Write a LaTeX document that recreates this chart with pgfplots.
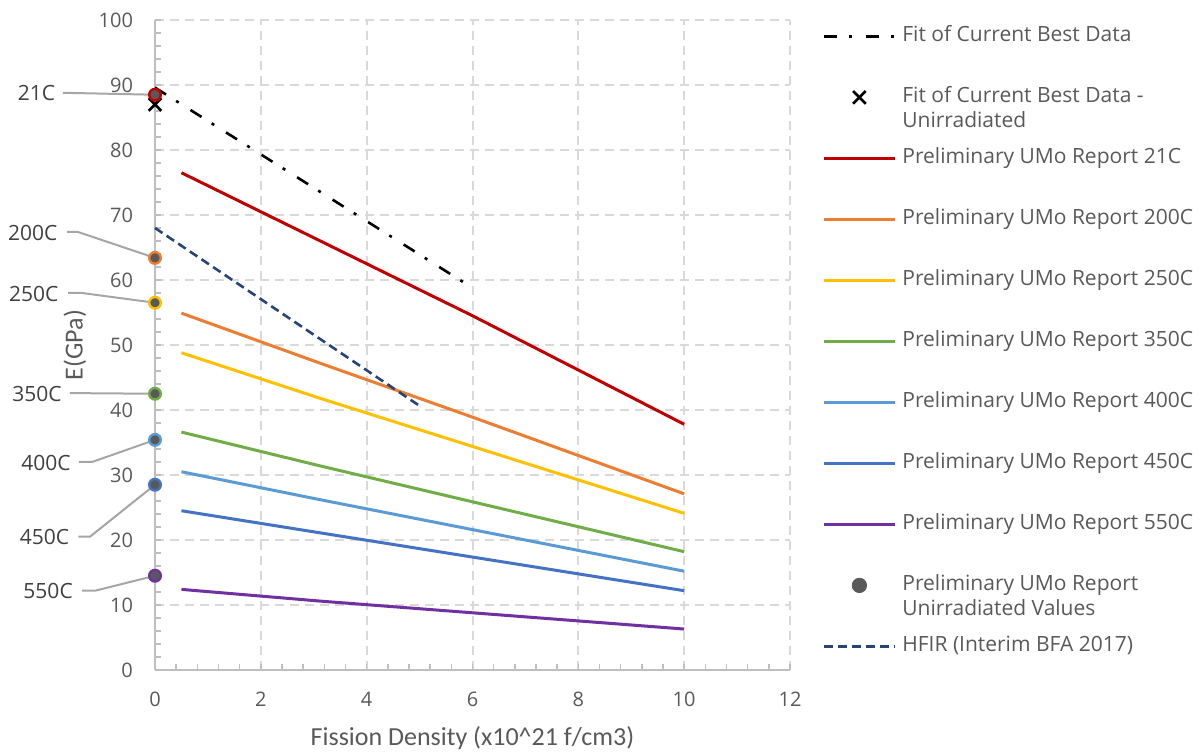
\documentclass[border=0pt]{standalone}
\usepackage{pgfplots}
\pgfplotsset{compat=1.18}
\usepackage{fontspec}
\setmainfont{Open Sans}
\newfontfamily\calib{Carlito}

\definecolor{c21}{HTML}{C00000}
\definecolor{c200}{HTML}{ED7D31}
\definecolor{c250}{HTML}{FFC000}
\definecolor{c350}{HTML}{70AD47}
\definecolor{c400}{HTML}{5B9BD5}
\definecolor{c450}{HTML}{4472C4}
\definecolor{c550}{HTML}{7030A0}
\definecolor{hfir}{HTML}{264478}
\definecolor{mk}{HTML}{595959}
\definecolor{txt}{HTML}{595959}
\definecolor{anntxt}{HTML}{404040}
\definecolor{lead}{HTML}{A6A6A6}
\definecolor{axisc}{HTML}{BFBFBF}
\definecolor{gridc}{HTML}{D9D9D9}

\tikzset{ann/.style={font=\fontsize{10.5}{12.5}\selectfont, text=anntxt, anchor=center}}
\pgfplotsset{leadline/.style={draw=lead, line width=1pt, forget plot}}

\begin{document}
\begin{tikzpicture}
\path[use as bounding box] (-77.5pt,-41.5pt) rectangle (522.5pt,335pt);
\begin{axis}[
  at={(0pt,0pt)}, anchor=south west,
  width=317.5pt, height=325pt, scale only axis,
  xmin=0, xmax=12, ymin=0, ymax=100,
  xtick={0,2,...,12}, ytick={0,10,...,100},
  minor x tick num=4, minor y tick num=4,
  clip=false,
  axis lines*=left,
  axis line style={draw=axisc, line width=1pt, -},
  every outer x axis line/.append style={-},
  every outer y axis line/.append style={-},
  xtick pos=left, ytick pos=left,
  tick align=inside,
  major tick length=3pt, minor tick length=3pt,
  tick style={draw=axisc, line width=0.8pt},
  grid=major,
  major grid style={draw=gridc, line width=1pt, dash pattern=on 4.5pt off 3pt},
  /pgf/number format/assume math mode=true,
  tick label style={font=\fontsize{10}{12}\selectfont, text=txt},
  yticklabel style={xshift=-7.5pt},
  xticklabel style={yshift=-7.5pt},
  xlabel={Fission Density (x10\textasciicircum 21 f/cm3)},
  ylabel={E(GPa)},
  xlabel style={font=\calib\fontsize{13}{15}\selectfont, text=txt,
    at={(axis description cs:0.5,-0.105)}, anchor=center},
  ylabel style={font=\calib\fontsize{13}{15}\selectfont, text=txt,
    at={(axis description cs:-0.126,0.5)}, anchor=center},
  legend image code/.code={\draw[mark repeat=2,mark phase=2,#1]
    plot coordinates {(0pt,0pt) (17.75pt,0pt) (35.5pt,0pt)};},
  legend cell align=left,
  legend style={at={(1,1)}, anchor=north west, xshift=16pt, yshift=-3.5pt,
    draw=none, fill=none, inner sep=0pt, row sep=21.5pt, column sep=3pt,
    font=\fontsize{10.5}{12.5}\selectfont,
    nodes={inner sep=0pt, text height=7pt, text depth=2pt, anchor=west, text=txt}},
]

% legend entries
\addlegendimage{draw=black, line width=1.3pt, dash pattern=on 6.5pt off 6pt on 1.5pt off 7pt}
\addlegendentry{Fit of Current Best Data}
\addlegendimage{only marks, mark=x, mark size=4.5pt, mark options={draw=black, line width=1.3pt}}
\addlegendentry{\smash{\begin{tabular}[t]{@{}l@{}}Fit of Current Best Data -\\Unirradiated\end{tabular}}}
\addlegendimage{draw=c21, line width=1.5pt}\addlegendentry{Preliminary UMo Report 21C}
\addlegendimage{draw=c200, line width=1.5pt}\addlegendentry{Preliminary UMo Report 200C}
\addlegendimage{draw=c250, line width=1.5pt}\addlegendentry{Preliminary UMo Report 250C}
\addlegendimage{draw=c350, line width=1.5pt}\addlegendentry{Preliminary UMo Report 350C}
\addlegendimage{draw=c400, line width=1.5pt}\addlegendentry{Preliminary UMo Report 400C}
\addlegendimage{draw=c450, line width=1.5pt}\addlegendentry{Preliminary UMo Report 450C}
\addlegendimage{draw=c550, line width=1.5pt}\addlegendentry{Preliminary UMo Report 550C}
\addlegendimage{only marks, mark=*, mark size=3.6pt, mark options={fill=mk, draw=mk}}
\addlegendentry{\smash{\begin{tabular}[t]{@{}l@{}}Preliminary UMo Report\\Unirradiated Values\end{tabular}}}
\addlegendimage{draw=hfir, line width=1.3pt, dash pattern=on 4.5pt off 2.5pt}
\addlegendentry{HFIR (Interim BFA 2017)}

% fit of current best data
\addplot[forget plot, draw=black, line width=1.3pt, dash pattern=on 6.5pt off 6pt on 1.5pt off 7pt]
  coordinates {(0,89.6) (5.82,59.7)};
\addplot[forget plot, only marks, mark=x, mark size=4.5pt, mark options={draw=black, line width=1.3pt}]
  coordinates {(0,87.0)};

% preliminary UMo report, irradiated
\addplot[forget plot, draw=c21, line width=1.5pt]  coordinates {(0.5,76.5) (6,54.5) (10,37.8)};
\addplot[forget plot, draw=c200, line width=1.5pt] coordinates {(0.5,54.9) (3.12,47.2) (6,38.9) (10,27.1)};
\addplot[forget plot, draw=c250, line width=1.5pt] coordinates {(0.5,48.8) (3.12,41.8) (10,24.1)};
\addplot[forget plot, draw=c350, line width=1.5pt] coordinates {(0.5,36.6) (3.12,31.4) (10,18.2)};
\addplot[forget plot, draw=c400, line width=1.5pt] coordinates {(0.5,30.5) (3.12,26.2) (10,15.2)};
\addplot[forget plot, draw=c450, line width=1.5pt] coordinates {(0.5,24.5) (3.12,21.1) (10,12.2)};
\addplot[forget plot, draw=c550, line width=1.5pt] coordinates {(0.5,12.4) (3.12,10.6) (10,6.3)};

% leader lines from the temperature labels
\addplot[leadline] coordinates {(-1.74,88.8) (0,88.5)};
\addplot[leadline] coordinates {(-1.66,67.4) (-1.46,67.4) (0,63.4)};
\addplot[leadline] coordinates {(-1.64,58.0) (-1.38,58.0) (0,56.5)};
\addplot[leadline] coordinates {(-1.61,42.6) (0,42.5)};
\addplot[leadline] coordinates {(-1.44,32.0) (-1.19,32.0) (0,35.4)};
\addplot[leadline] coordinates {(-1.45,20.5) (-1.23,20.5) (0,28.5)};
\addplot[leadline] coordinates {(-1.38,12.2) (-1.13,12.2) (0,14.5)};

% unirradiated values
\addplot[forget plot, only marks, mark=*, mark size=2.9pt, mark options={fill=mk, draw=c21, line width=1.2pt}]  coordinates {(0,88.5)};
\addplot[forget plot, only marks, mark=*, mark size=2.9pt, mark options={fill=mk, draw=c200, line width=1.2pt}] coordinates {(0,63.4)};
\addplot[forget plot, only marks, mark=*, mark size=2.9pt, mark options={fill=mk, draw=c250, line width=1.2pt}] coordinates {(0,56.5)};
\addplot[forget plot, only marks, mark=*, mark size=2.9pt, mark options={fill=mk, draw=c350, line width=1.2pt}] coordinates {(0,42.5)};
\addplot[forget plot, only marks, mark=*, mark size=2.9pt, mark options={fill=mk, draw=c400, line width=1.2pt}] coordinates {(0,35.4)};
\addplot[forget plot, only marks, mark=*, mark size=2.9pt, mark options={fill=mk, draw=c450, line width=1.2pt}] coordinates {(0,28.5)};
\addplot[forget plot, only marks, mark=*, mark size=2.9pt, mark options={fill=mk, draw=c550, line width=1.2pt}] coordinates {(0,14.5)};

% HFIR
\addplot[forget plot, draw=hfir, line width=1.3pt, dash pattern=on 4.5pt off 2.5pt]
  coordinates {(0,68.0) (4.97,40.8)};

% temperature labels
\node[ann] at (axis cs:-2.24,88.7) {21C};
\node[ann] at (axis cs:-2.31,67.3) {200C};
\node[ann] at (axis cs:-2.29,57.8) {250C};
\node[ann] at (axis cs:-2.23,42.5) {350C};
\node[ann] at (axis cs:-2.06,31.8) {400C};
\node[ann] at (axis cs:-2.09,20.4) {450C};
\node[ann] at (axis cs:-2.02,12.1) {550C};
\end{axis}
\end{tikzpicture}
\end{document}
